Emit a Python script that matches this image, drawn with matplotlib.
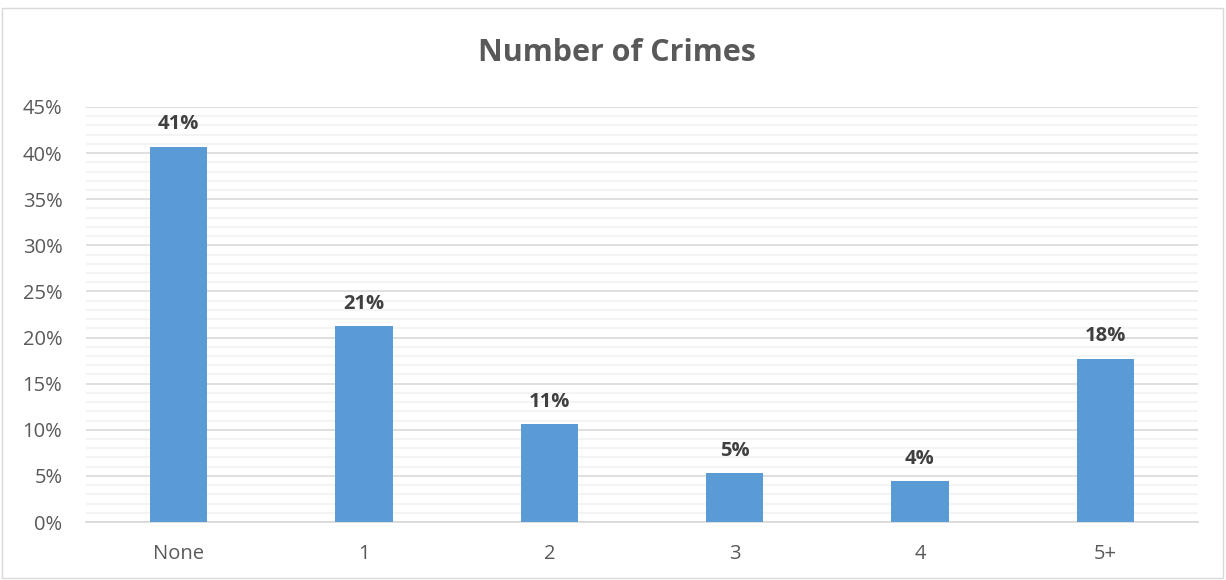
import matplotlib
matplotlib.use('Agg')
import matplotlib.pyplot as plt
from matplotlib.ticker import MultipleLocator, FuncFormatter
from matplotlib.patches import Rectangle

categories = ['None', '1', '2', '3', '4', '5+']
shares = [40.7, 21.2, 10.6, 5.3, 4.4, 17.7]  # percent
labels = ['41%', '21%', '11%', '5%', '4%', '18%']

plt.rcParams['font.family'] = ['Open Sans', 'DejaVu Sans']

fig = plt.figure(figsize=(12.26, 5.8), dpi=100)
ax = fig.add_axes([86 / 1226, 1 - 522 / 580, 1112 / 1226, 415 / 580])

x = range(len(categories))
ax.bar(x, shares, width=0.31, color='#5B9BD5', zorder=3)
for xi, v, lab in zip(x, shares, labels):
    ax.annotate(lab, (xi, v), xytext=(0, 9), textcoords='offset points',
                ha='center', va='bottom', fontsize=14.5, fontweight='bold', color='#404040')

ax.set_xlim(-0.5, len(categories) - 0.5)
ax.set_ylim(0, 45)
ax.yaxis.set_major_locator(MultipleLocator(5))
ax.yaxis.set_minor_locator(MultipleLocator(1))
ax.yaxis.set_major_formatter(FuncFormatter(lambda v, p: f'{v:.0f}%'))
ax.grid(axis='y', which='major', color='#D9D9D9', linewidth=1.2, zorder=0)
ax.grid(axis='y', which='minor', color='#F2F2F2', linewidth=1.2, zorder=0)
ax.set_xticks(list(x))
ax.set_xticklabels(categories)
ax.tick_params(axis='both', which='both', length=0, labelsize=14.5, labelcolor='#595959')
ax.tick_params(axis='x', pad=16)
ax.tick_params(axis='y', pad=17)
for s in ['top', 'right', 'left']:
    ax.spines[s].set_visible(False)
ax.spines['bottom'].set_color('#D9D9D9')
ax.spines['bottom'].set_linewidth(1.2)

fig.text(617 / 1226, 1 - 53 / 580, 'Number of Crimes', ha='center', va='center',
         fontsize=22, fontweight='bold', color='#595959')

fig.patches.append(Rectangle((2 / 1226, 2 / 580), 1221 / 1226, 570 / 580,
                             transform=fig.transFigure, fill=False,
                             edgecolor='#D9D9D9', linewidth=1))

fig.savefig('out.png', dpi=100)
